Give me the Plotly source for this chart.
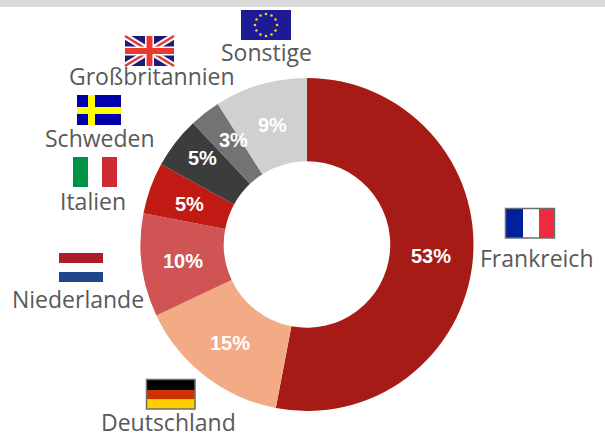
import math
import plotly.graph_objects as go

W, H = 605, 434
countries = ["Frankreich", "Deutschland", "Niederlande", "Italien", "Schweden", "Großbritannien", "Sonstige"]
shares = [53, 15, 10, 5, 5, 3, 9]
slice_colors = ["#A61B16", "#F2AB84", "#D15454", "#C11A14", "#3C3C3C", "#737373", "#D0D0D0"]
label_x = [536, 168, 78, 93, 100, 152, 266]
label_y = [258, 422, 299, 201, 138, 76, 52]
pct_nudge_x = [0, 0, 0, 0, -6, 3, 0]
pct_nudge_y = [0, 0, 1, 2, -10, -6, 0]

cx, cy, R = 307, 244.5, 166.5


def px(x):
    return x / W


def py(y):
    return 1 - y / H


shapes = []


def rect(x0, y0, x1, y1, color, line=None):
    shapes.append(dict(type="rect", xref="paper", yref="paper", x0=px(x0), x1=px(x1), y0=py(y0), y1=py(y1),
                       fillcolor=color, line=dict(width=1.5 if line else 0, color=line or color), layer="above"))


def poly(points, color):
    d = "M " + " L ".join(f"{px(a):.5f},{py(b):.5f}" for a, b in points) + " Z"
    shapes.append(dict(type="path", xref="paper", yref="paper", path=d, fillcolor=color, line=dict(width=0), layer="above"))


def band(x0, y0, x1, y1, t, color):
    n = math.hypot(x1 - x0, y1 - y0)
    ox, oy = -(y1 - y0) / n * t, (x1 - x0) / n * t
    poly([(x0 + ox, y0 + oy), (x1 + ox, y1 + oy), (x1 - ox, y1 - oy), (x0 - ox, y0 - oy)], color)


# top band
rect(0, 0, W, 7, "#D9D9D9")

# France
rect(506, 209, 523, 238, "#00209F")
rect(523, 209, 539, 238, "#FFFFFF")
rect(539, 209, 554, 238, "#EF2B3D")
rect(505.5, 208.5, 554.5, 238, "rgba(0,0,0,0)", "#6E6E6E")

# Germany
rect(147, 380, 195, 390, "#000000")
rect(147, 390, 195, 399.5, "#CC3300")
rect(147, 399.5, 195, 409, "#FFCE00")
rect(146.5, 379.5, 195, 409, "rgba(0,0,0,0)", "#6E6E6E")

# Netherlands
rect(59, 253, 103, 263, "#AE1C28")
rect(59, 272, 103, 282, "#21468B")

# Italy
rect(73, 157, 88, 187, "#009246")
rect(102, 157, 117, 187, "#CE2B37")

# Sweden
rect(77, 95, 121, 125, "#0000AA")
rect(88, 95, 95, 125, "#FFFF00")
rect(77, 107, 121, 114, "#FFFF00")

# Great Britain
rect(125, 36, 174, 66, "#1F1A7A")
band(125, 36, 174, 66, 3.2, "#FFFFFF")
band(125, 66, 174, 36, 3.2, "#FFFFFF")
band(125, 36, 174, 66, 1.3, "#E03A35")
band(125, 66, 174, 36, 1.3, "#E03A35")
rect(145, 36, 154, 66, "#FFFFFF")
rect(125, 46.5, 174, 55.5, "#FFFFFF")
rect(146.5, 36, 152.5, 66, "#E8392F")
rect(125, 48, 174, 54, "#E8392F")

# EU
rect(241, 10, 291, 40, "#1D1A96")
for i in range(12):
    a = math.radians(i * 30)
    x, y = 266 + 11 * math.sin(a), 25 - 11 * math.cos(a)
    shapes.append(dict(type="circle", xref="paper", yref="paper", x0=px(x - 1.3), x1=px(x + 1.3), y0=py(y - 1.3), y1=py(y + 1.3),
                       fillcolor="#F5D327", line=dict(width=0), layer="above"))

annotations = [
    dict(text=t, x=px(a), y=py(b), xref="paper", yref="paper", showarrow=False, xanchor="center", yanchor="middle",
         font=dict(family="Open Sans", size=23, color="#595959"))
    for t, a, b in zip(countries, label_x, label_y)
]

# percentage labels at mid-ring of each slice
total = sum(shares)
acc = 0
for v, nx, ny in zip(shares, pct_nudge_x, pct_nudge_y):
    ang = 2 * math.pi * (acc + v / 2) / total
    acc += v
    annotations.append(dict(text=f"<b>{v}%</b>",
                            x=px(cx + 0.75 * R * math.sin(ang) + nx), y=py(cy - 0.75 * R * math.cos(ang) + ny),
                            xref="paper", yref="paper", showarrow=False, xanchor="center", yanchor="middle",
                            font=dict(family="Liberation Sans", size=20, color="#FFFFFF")))

fig = go.Figure(go.Pie(
    labels=countries,
    values=shares,
    hole=0.5,
    sort=False,
    direction="clockwise",
    rotation=0,
    marker=dict(colors=slice_colors, line=dict(width=0)),
    textinfo="none",
    domain=dict(x=[px(cx - R), px(cx + R)], y=[py(cy + R), py(cy - R)]),
    showlegend=False,
))
fig.update_layout(width=W, height=H, margin=dict(l=0, r=0, t=0, b=0), paper_bgcolor="#FFFFFF",
                  shapes=shapes, annotations=annotations, showlegend=False)
fig.write_html("out.html", config={"displayModeBar": False},
               post_script="document.body.style.margin='0';document.body.style.overflow='hidden';window.dispatchEvent(new Event('resize'));")
